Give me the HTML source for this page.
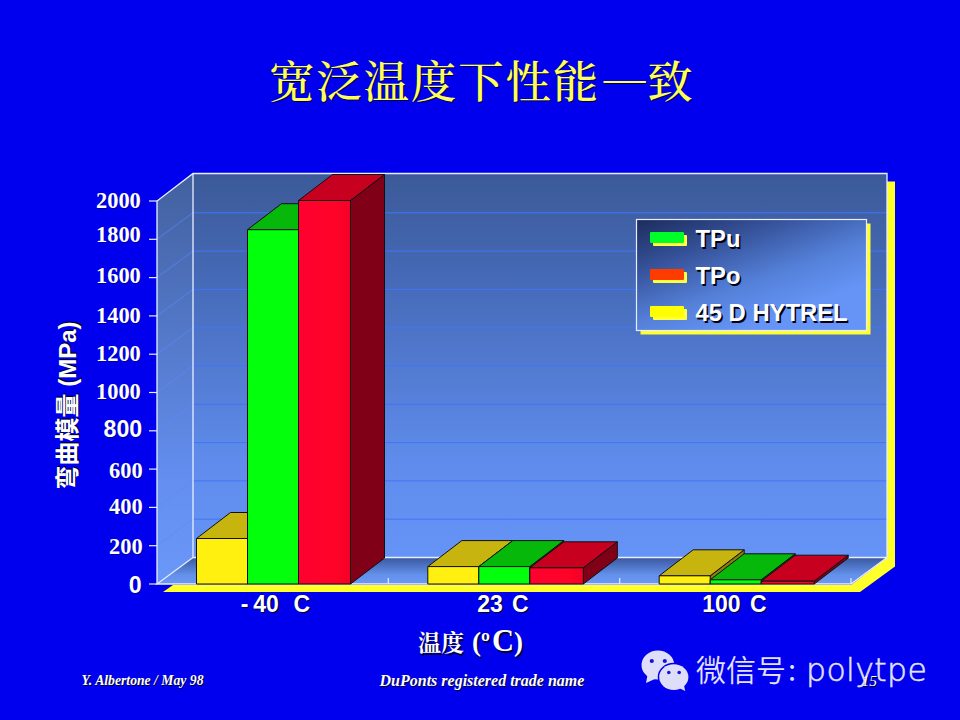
<!DOCTYPE html>
<html><head><meta charset="utf-8">
<style>
html,body{margin:0;padding:0;}
body{width:960px;height:720px;overflow:hidden;background:#0000ee;}
svg{display:block;}
.ar{font-family:"Liberation Sans",sans-serif;font-weight:bold;}
.tm{font-family:"Liberation Serif",serif;font-weight:bold;}
.tmi{font-family:"Liberation Serif",serif;font-weight:bold;font-style:italic;}
.tmn{font-family:"Liberation Serif",serif;font-weight:normal;}
.tmr{font-family:"Liberation Serif",serif;font-weight:normal;font-style:italic;}
.wx{font-family:"Noto Sans CJK SC","Liberation Sans",sans-serif;font-weight:350;}
.wxl{font-family:"DejaVu Sans","Liberation Sans",sans-serif;font-weight:200;}
.cj{font-family:"Liberation Serif","Noto Serif CJK SC",serif;}
.cjs{font-family:"Liberation Sans","Noto Sans CJK SC",sans-serif;}
</style></head><body>
<svg width="960" height="720" viewBox="0 0 960 720">
<defs>
<linearGradient id="wall" x1="0" y1="0" x2="0" y2="1"><stop offset="0" stop-color="#3c5a98"/><stop offset="0.25" stop-color="#4468b4"/><stop offset="0.75" stop-color="#5f8cec"/><stop offset="1" stop-color="#6594f6"/></linearGradient>
<linearGradient id="lwall" x1="0" y1="0" x2="0" y2="1"><stop offset="0" stop-color="#42609e"/><stop offset="0.75" stop-color="#648ff0"/><stop offset="1" stop-color="#6a98f8"/></linearGradient>
<linearGradient id="floor" x1="0" y1="0" x2="0" y2="1"><stop offset="0" stop-color="#3a589e"/><stop offset="0.65" stop-color="#6390ea"/><stop offset="1" stop-color="#6a98f4"/></linearGradient>
<linearGradient id="leg" x1="0" y1="0" x2="0.75" y2="1"><stop offset="0" stop-color="#1c2c5c"/><stop offset="0.3" stop-color="#36529a"/><stop offset="0.6" stop-color="#5480d8"/><stop offset="0.85" stop-color="#6594f6"/></linearGradient>
<linearGradient id="redf" x1="0" y1="0" x2="1" y2="0"><stop offset="0" stop-color="#ff0030"/><stop offset="0.7" stop-color="#ff0428"/><stop offset="1" stop-color="#f40028"/></linearGradient>
</defs>
<rect width="960" height="720" fill="#0000ee"/>

<polygon points="887.0,181.5 895.0,181.5 895.0,566.5 860.0,592.0 163.0,592.0 173.0,585.0 851.0,585.0 887.0,557.5" fill="#ffff2a"/>
<polygon points="193.0,173.5 887.0,173.5 887.0,557.5 193.0,557.5" fill="url(#wall)"/>
<polygon points="157.0,201.0 193.0,173.5 193.0,557.5 157.0,584.0" fill="url(#lwall)"/>
<polygon points="157.0,584.0 193.0,557.5 887.0,557.5 851.0,584.0" fill="url(#floor)"/>
<g stroke="#4074fa" stroke-width="1" fill="none"><path d="M193.0,519.2 L887.0,519.2"/><path d="M193.0,480.9 L887.0,480.9"/><path d="M193.0,442.6 L887.0,442.6"/><path d="M193.0,404.3 L887.0,404.3"/><path d="M193.0,366.0 L887.0,366.0"/><path d="M193.0,327.7 L887.0,327.7"/><path d="M193.0,289.4 L887.0,289.4"/><path d="M193.0,251.1 L887.0,251.1"/><path d="M193.0,212.8 L887.0,212.8"/></g>
<g stroke="#5a8cff" stroke-width="1.2" fill="none" opacity="0.45"><path d="M157.0,545.7 L193.0,519.2"/><path d="M157.0,507.4 L193.0,480.9"/><path d="M157.0,469.1 L193.0,442.6"/><path d="M157.0,430.8 L193.0,404.3"/><path d="M157.0,392.5 L193.0,366.0"/><path d="M157.0,354.2 L193.0,327.7"/><path d="M157.0,315.9 L193.0,289.4"/><path d="M157.0,277.6 L193.0,251.1"/><path d="M157.0,239.3 L193.0,212.8"/></g>
<g stroke="#e8eeff" stroke-width="1.3" fill="none"><path d="M157.0,584.0 L157.0,201.0 L193.0,173.5 L887.0,173.5 L887.0,557.5 L193.0,557.5 L193.0,173.5"/><path d="M193.0,557.5 L157.0,584.0 L851.0,584.0 L887.0,557.5"/></g>
<g stroke="#e8eeff" stroke-width="1.2" fill="none"><path d="M388.3,584.0 L388.3,578.0"/><path d="M619.7,584.0 L619.7,578.0"/><path d="M851.0,584.0 L851.0,578.0"/><path d="M149.0,584.0 L157.0,584.0"/><path d="M149.0,545.7 L157.0,545.7"/><path d="M149.0,507.4 L157.0,507.4"/><path d="M149.0,469.1 L157.0,469.1"/><path d="M149.0,430.8 L157.0,430.8"/><path d="M149.0,392.5 L157.0,392.5"/><path d="M149.0,354.2 L157.0,354.2"/><path d="M149.0,315.9 L157.0,315.9"/><path d="M149.0,277.6 L157.0,277.6"/><path d="M149.0,239.3 L157.0,239.3"/><path d="M149.0,201.0 L157.0,201.0"/></g>
<polygon points="247.5,584.0 281.5,558.0 281.5,512.5 247.5,538.5" fill="#8a7c08" stroke="#101010" stroke-width="1" stroke-linejoin="round"/>
<polygon points="196.5,538.5 230.5,512.5 281.5,512.5 247.5,538.5" fill="#c8b40f" stroke="#101010" stroke-width="1" stroke-linejoin="round"/>
<polygon points="298.5,584.0 332.5,558.0 332.5,203.7 298.5,229.7" fill="#017a04" stroke="#101010" stroke-width="1" stroke-linejoin="round"/>
<polygon points="247.5,229.7 281.5,203.7 332.5,203.7 298.5,229.7" fill="#06b80a" stroke="#101010" stroke-width="1" stroke-linejoin="round"/>
<polygon points="350.5,584.0 384.5,558.0 384.5,174.5 350.5,200.5" fill="#800018" stroke="#101010" stroke-width="1" stroke-linejoin="round"/>
<polygon points="298.5,200.5 332.5,174.5 384.5,174.5 350.5,200.5" fill="#c80020" stroke="#101010" stroke-width="1" stroke-linejoin="round"/>
<polygon points="196.5,584.0 196.5,538.5 247.5,538.5 247.5,584.0" fill="#fff010" stroke="#101010" stroke-width="1" stroke-linejoin="round"/>
<polygon points="247.5,584.0 247.5,229.7 298.5,229.7 298.5,584.0" fill="#04ff0c" stroke="#101010" stroke-width="1" stroke-linejoin="round"/>
<polygon points="298.5,584.0 298.5,200.5 350.5,200.5 350.5,584.0" fill="url(#redf)" stroke="#101010" stroke-width="1" stroke-linejoin="round"/>
<polygon points="478.8,584.0 512.8,558.0 512.8,540.6 478.8,566.6" fill="#8a7c08" stroke="#101010" stroke-width="1" stroke-linejoin="round"/>
<polygon points="427.8,566.6 461.8,540.6 512.8,540.6 478.8,566.6" fill="#c8b40f" stroke="#101010" stroke-width="1" stroke-linejoin="round"/>
<polygon points="529.8,584.0 563.8,558.0 563.8,540.6 529.8,566.6" fill="#017a04" stroke="#101010" stroke-width="1" stroke-linejoin="round"/>
<polygon points="478.8,566.6 512.8,540.6 563.8,540.6 529.8,566.6" fill="#06b80a" stroke="#101010" stroke-width="1" stroke-linejoin="round"/>
<polygon points="583.3,584.0 617.3,558.0 617.3,541.8 583.3,567.8" fill="#800018" stroke="#101010" stroke-width="1" stroke-linejoin="round"/>
<polygon points="529.8,567.8 563.8,541.8 617.3,541.8 583.3,567.8" fill="#c80020" stroke="#101010" stroke-width="1" stroke-linejoin="round"/>
<polygon points="427.8,584.0 427.8,566.6 478.8,566.6 478.8,584.0" fill="#fff010" stroke="#101010" stroke-width="1" stroke-linejoin="round"/>
<polygon points="478.8,584.0 478.8,566.6 529.8,566.6 529.8,584.0" fill="#04ff0c" stroke="#101010" stroke-width="1" stroke-linejoin="round"/>
<polygon points="529.8,584.0 529.8,567.8 583.3,567.8 583.3,584.0" fill="url(#redf)" stroke="#101010" stroke-width="1" stroke-linejoin="round"/>
<polygon points="710.2,584.0 744.2,558.0 744.2,549.8 710.2,575.8" fill="#8a7c08" stroke="#101010" stroke-width="1" stroke-linejoin="round"/>
<polygon points="659.2,575.8 693.2,549.8 744.2,549.8 710.2,575.8" fill="#c8b40f" stroke="#101010" stroke-width="1" stroke-linejoin="round"/>
<polygon points="761.2,584.0 795.2,558.0 795.2,553.8 761.2,579.8" fill="#017a04" stroke="#101010" stroke-width="1" stroke-linejoin="round"/>
<polygon points="710.2,579.8 744.2,553.8 795.2,553.8 761.2,579.8" fill="#06b80a" stroke="#101010" stroke-width="1" stroke-linejoin="round"/>
<polygon points="814.2,584.0 848.2,558.0 848.2,555.2 814.2,581.2" fill="#800018" stroke="#101010" stroke-width="1" stroke-linejoin="round"/>
<polygon points="761.2,581.2 795.2,555.2 848.2,555.2 814.2,581.2" fill="#c80020" stroke="#101010" stroke-width="1" stroke-linejoin="round"/>
<polygon points="659.2,584.0 659.2,575.8 710.2,575.8 710.2,584.0" fill="#fff010" stroke="#101010" stroke-width="1" stroke-linejoin="round"/>
<polygon points="710.2,584.0 710.2,579.8 761.2,579.8 761.2,584.0" fill="#04ff0c" stroke="#101010" stroke-width="1" stroke-linejoin="round"/>
<polygon points="761.2,584.0 761.2,581.2 814.2,581.2 814.2,584.0" fill="url(#redf)" stroke="#101010" stroke-width="1" stroke-linejoin="round"/>
<rect x="640.5" y="223.5" width="230" height="111" fill="#ffff2a"/>
<rect x="636.5" y="219.5" width="230" height="111" fill="url(#leg)" stroke="#e8eeff" stroke-width="1.2"/>
<rect x="653" y="235" width="34" height="11" rx="1" fill="#ffff3c"/>
<rect x="650" y="232" width="34" height="11" rx="1" fill="#00ff28"/>
<text x="697.1" y="249.0" class="ar" font-size="23.8" fill="#000010" text-anchor="start" >TPu</text><text x="695.5" y="247.4" class="ar" font-size="23.8" fill="#fff" text-anchor="start" >TPu</text>
<rect x="653" y="272" width="34" height="11" rx="1" fill="#ffff3c"/>
<rect x="650" y="269" width="34" height="11" rx="1" fill="#ff3c00"/>
<text x="697.1" y="286.0" class="ar" font-size="23.8" fill="#000010" text-anchor="start" >TPo</text><text x="695.5" y="284.4" class="ar" font-size="23.8" fill="#fff" text-anchor="start" >TPo</text>
<rect x="653" y="309" width="34" height="11" rx="1" fill="#ffff3c"/>
<rect x="650" y="306" width="34" height="11" rx="1" fill="#ffff00"/>
<text x="697.1" y="323.0" class="ar" font-size="23.8" fill="#000010" text-anchor="start" >45 D HYTREL</text><text x="695.5" y="321.4" class="ar" font-size="23.8" fill="#fff" text-anchor="start" >45 D HYTREL</text>
<text x="141.8" y="208.8" class="tm" font-size="22.4" fill="#0000a0" text-anchor="end" >2000</text><text x="140.8" y="207.8" class="tm" font-size="22.4" fill="#fff" text-anchor="end" >2000</text>
<text x="141.8" y="243.0" class="tm" font-size="22.4" fill="#0000a0" text-anchor="end" >1800</text><text x="140.8" y="242.0" class="tm" font-size="22.4" fill="#fff" text-anchor="end" >1800</text>
<text x="141.8" y="283.8" class="tm" font-size="22.4" fill="#0000a0" text-anchor="end" >1600</text><text x="140.8" y="282.8" class="tm" font-size="22.4" fill="#fff" text-anchor="end" >1600</text>
<text x="141.8" y="324.0" class="tm" font-size="22.4" fill="#0000a0" text-anchor="end" >1400</text><text x="140.8" y="323.0" class="tm" font-size="22.4" fill="#fff" text-anchor="end" >1400</text>
<text x="141.8" y="362.3" class="tm" font-size="22.4" fill="#0000a0" text-anchor="end" >1200</text><text x="140.8" y="361.3" class="tm" font-size="22.4" fill="#fff" text-anchor="end" >1200</text>
<text x="141.8" y="400.1" class="tm" font-size="22.4" fill="#0000a0" text-anchor="end" >1000</text><text x="140.8" y="399.1" class="tm" font-size="22.4" fill="#fff" text-anchor="end" >1000</text>
<text x="143.2" y="438.2" class="ar" font-size="23.2" fill="#0000a0" text-anchor="end" >800</text><text x="142.2" y="437.2" class="ar" font-size="23.2" fill="#fff" text-anchor="end" >800</text>
<text x="143.6" y="479.3" class="tm" font-size="22.4" fill="#0000a0" text-anchor="end" >600</text><text x="142.6" y="478.3" class="tm" font-size="22.4" fill="#fff" text-anchor="end" >600</text>
<text x="143.6" y="514.7" class="tm" font-size="22.4" fill="#0000a0" text-anchor="end" >400</text><text x="142.6" y="513.7" class="tm" font-size="22.4" fill="#fff" text-anchor="end" >400</text>
<text x="143.6" y="555.2" class="tm" font-size="22.4" fill="#0000a0" text-anchor="end" >200</text><text x="142.6" y="554.2" class="tm" font-size="22.4" fill="#fff" text-anchor="end" >200</text>
<text x="142.6" y="594.0" class="ar" font-size="23.2" fill="#0000a0" text-anchor="end" >0</text><text x="141.6" y="593.0" class="ar" font-size="23.2" fill="#fff" text-anchor="end" >0</text>
<text x="242.0" y="613.0999999999999" class="ar" font-size="23" fill="#000030" text-anchor="start" >-</text><text x="240.7" y="611.8" class="ar" font-size="23" fill="#fff" text-anchor="start" >-</text>
<text x="254.60000000000002" y="613.0999999999999" class="ar" font-size="23" fill="#000030" text-anchor="start" >40</text><text x="253.3" y="611.8" class="ar" font-size="23" fill="#fff" text-anchor="start" >40</text>
<text x="294.8" y="613.0999999999999" class="ar" font-size="23" fill="#000030" text-anchor="start" >C</text><text x="293.5" y="611.8" class="ar" font-size="23" fill="#fff" text-anchor="start" >C</text>
<text x="478.5" y="613.0999999999999" class="ar" font-size="23" fill="#000030" text-anchor="start" >23</text><text x="477.2" y="611.8" class="ar" font-size="23" fill="#fff" text-anchor="start" >23</text>
<text x="513.4" y="613.0999999999999" class="ar" font-size="23" fill="#000030" text-anchor="start" >C</text><text x="512.1" y="611.8" class="ar" font-size="23" fill="#fff" text-anchor="start" >C</text>
<text x="703.5" y="613.0999999999999" class="ar" font-size="23" fill="#000030" text-anchor="start" >100</text><text x="702.2" y="611.8" class="ar" font-size="23" fill="#fff" text-anchor="start" >100</text>
<text x="751.1999999999999" y="613.0999999999999" class="ar" font-size="23" fill="#000030" text-anchor="start" >C</text><text x="749.9" y="611.8" class="ar" font-size="23" fill="#fff" text-anchor="start" >C</text>
<g transform="translate(75.5,405.5) rotate(-90)"><text x="1.3" y="1.3" class="ar" font-size="24" fill="#000030" text-anchor="middle" ><tspan class="cjs" style="font-weight:700">弯曲模量</tspan> (MPa)</text><text x="0" y="0" class="ar" font-size="24" fill="#fff" text-anchor="middle" ><tspan class="cjs" style="font-weight:700">弯曲模量</tspan> (MPa)</text></g>
<text x="419.5" y="652.5" class="tm" font-size="27" fill="#000030" text-anchor="start" ><tspan class="cj" style="font-weight:bold" font-size="23">温度</tspan><tspan class="tm" font-size="27" dx="8">(º</tspan><tspan class="tm" font-size="30.5" dx="2">C</tspan><tspan class="tm" font-size="27">)</tspan></text><text x="418" y="651" class="tm" font-size="27" fill="#fff" text-anchor="start" ><tspan class="cj" style="font-weight:bold" font-size="23">温度</tspan><tspan class="tm" font-size="27" dx="8">(º</tspan><tspan class="tm" font-size="30.5" dx="2">C</tspan><tspan class="tm" font-size="27">)</tspan></text>
<g transform="translate(269,97.8) scale(1,0.97)"><text x="1.3" y="1.3" class="cj" font-size="45.5" fill="#000050" text-anchor="start" style="font-weight:500" letter-spacing="1.8">宽泛温度下性能<tspan dx="3.7" dy="-7.5" font-size="41.8">—</tspan><tspan dy="7.5">致</tspan></text><text x="0" y="0" class="cj" font-size="45.5" fill="#ffff5a" text-anchor="start" style="font-weight:500" letter-spacing="1.8">宽泛温度下性能<tspan dx="3.7" dy="-7.5" font-size="41.8">—</tspan><tspan dy="7.5">致</tspan></text></g>
<text x="82.5" y="686" class="tmi" font-size="13.7" fill="#000030" text-anchor="start" >Y. Albertone / May 98</text><text x="81.5" y="685" class="tmi" font-size="13.7" fill="#fff" text-anchor="start" >Y. Albertone / May 98</text>
<text x="380.5" y="686.5" class="tmi" font-size="16" fill="#000030" text-anchor="start" >DuPonts registered trade name</text><text x="379.5" y="685.5" class="tmi" font-size="16" fill="#fff" text-anchor="start" >DuPonts registered trade name</text>
<g fill="#dedefa">
<ellipse cx="657.9" cy="665" rx="16.4" ry="14.5"/>
<polygon points="647.5,675 646,683 656,678.5"/>
<ellipse cx="673.8" cy="677.1" rx="16.1" ry="14.4" fill="#0000ee"/>
<ellipse cx="673.8" cy="677.1" rx="14.6" ry="12.9"/>
<polygon points="679,688 685.2,691 683.8,684.5"/>
</g>
<g fill="#1414d8"><circle cx="651.8" cy="661" r="2.1"/><circle cx="664.8" cy="661" r="2.1"/><circle cx="668.8" cy="672.5" r="1.8"/><circle cx="679.2" cy="672.5" r="1.8"/></g>
<text x="696" y="681" class="wx" font-size="30" fill="#e2e2fb">微信号<tspan dx="2">:</tspan></text>
<text x="806" y="681" class="wxl" font-size="31.5" fill="#e2e2fb" stroke="#e2e2fb" stroke-width="0.55" letter-spacing="0.4">polytpe</text>
<text x="862.5" y="687" class="tmr" font-size="15.5" fill="#000" text-anchor="start" >15</text><text x="861.5" y="686" class="tmr" font-size="15.5" fill="#fff" text-anchor="start" >15</text>
</svg>
</body></html>
